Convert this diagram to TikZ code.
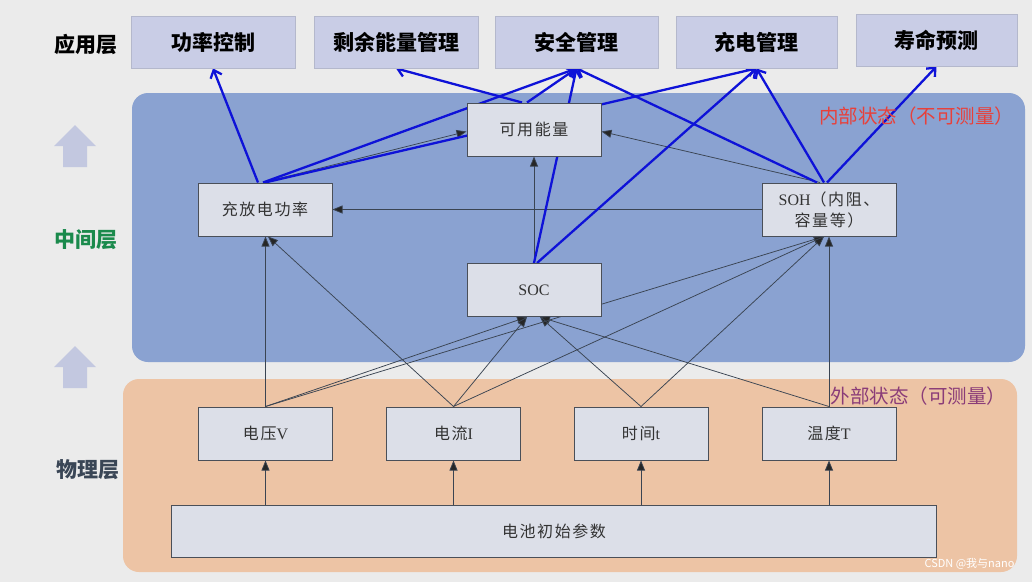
\documentclass[tikz,border=0pt]{standalone}
\usepackage{fontspec}
\setmainfont{Liberation Serif}
\newfontfamily\cjk{Noto Sans CJK SC}
\newfontfamily\cjkbox[LetterSpace=10]{Noto Sans CJK SC}
\usetikzlibrary{arrows.meta}

\definecolor{pagebg}{HTML}{EBEBEB}
\definecolor{innerbg}{HTML}{8AA2D1}
\definecolor{outerbg}{HTML}{EDC4A5}
\definecolor{appfill}{HTML}{C9CDE6}
\definecolor{appline}{HTML}{B4B8CC}
\definecolor{boxfill}{HTML}{DCDFE8}
\definecolor{boxline}{HTML}{4A4F58}
\definecolor{boxtext}{HTML}{333333}
\definecolor{feedline}{HTML}{3A4452}
\definecolor{useblue}{HTML}{0E12D8}
\definecolor{blockup}{HTML}{C3C8E0}
\definecolor{innertxt}{HTML}{E8403A}
\definecolor{outertxt}{HTML}{8A3C78}
\definecolor{midgreen}{HTML}{1A8A4C}
\definecolor{phystxt}{HTML}{3A4656}

\pgfdeclarelayer{back}
\pgfdeclarelayer{links}
\pgfsetlayers{back,links,main}

\begin{document}
\begin{tikzpicture}[x=1pt, y=-1pt,
  app/.style={rectangle, draw=appline, fill=appfill, line width=0.8pt,
              minimum width=164pt, minimum height=52pt, inner sep=0pt,
              font=\cjk\bfseries\fontsize{21}{24}\selectfont, text=black},
  state/.style={rectangle, draw=boxline, fill=boxfill, line width=1pt,
                minimum width=134pt, minimum height=53pt, inner sep=0pt,
                font=\fontsize{16}{21}\selectfont, text=boxtext, align=center},
  layername/.style={font=\cjk\bfseries\fontsize{21}{24}\selectfont},
  feedlink/.style={line width=0.75pt, draw=feedline,
                   -{Triangle[length=10pt, width=8pt, fill=black!85]}},
  uselink/.style={line width=2.3pt, draw=useblue,
                  -{Straight Barb[length=7pt, width=12pt]}}
]
  \useasboundingbox (0,0) rectangle (1032,582);

  % Page, layer bands and up arrows
  \begin{pgfonlayer}{back}
    \fill[pagebg] (0,0) rectangle (1032,582);
    \fill[innerbg, rounded corners=16pt] (132,93) rectangle (1025,362);
    \fill[outerbg, rounded corners=16pt] (123,379) rectangle (1017,572);
    \foreach \dy in {0,221} {
      \fill[blockup] (63,167+\dy) -- (63,146+\dy) -- (54,146+\dy) -- (75,125+\dy)
        -- (96,146+\dy) -- (87,146+\dy) -- (87,167+\dy) -- cycle;
    }
  \end{pgfonlayer}

  % Layer names
  \node[layername, text=black]    (lapp)  at (86,44)  {应用层};
  \node[layername, text=midgreen] (lmid)  at (86,240) {中间层};
  \node[layername, text=phystxt]  (lphys) at (88,470) {物理层};

  % Application layer
  \node[app] (a1) at (213,42)   {功率控制};
  \node[app] (a2) at (396,42)   {剩余能量管理};
  \node[app, minimum width=163pt] (a3) at (576.5,42) {安全管理};
  \node[app, minimum width=161pt] (a4) at (756.5,42) {充电管理};
  \node[app, minimum width=161pt] (a5) at (936.5,40) {寿命预测};

  % Internal states
  \node[state] (pw)  at (265,209.5) {{\cjkbox 充放电功率}};
  \node[state] (ky)  at (534,129.5) {{\cjkbox 可用能量}};
  \node[state] (soc) at (534,290)   {SOC};
  \node[state] (soh) at (829,209.5) {SOH{\cjkbox （内阻、}\\{\cjkbox 容量等）}};

  % Measured states
  \node[state] (v)  at (265.5,433.5) {{\cjkbox 电压}V};
  \node[state] (i)  at (453.5,433.5) {{\cjkbox 电流}I};
  \node[state] (t)  at (641,433.5)   {{\cjkbox 时间}t};
  \node[state] (tt) at (829,433.5)   {{\cjkbox 温度}T};
  \node[state, minimum width=765pt, minimum height=52pt] (bat) at (554,531)
    {{\cjkbox 电池初始参数}};

  % Band captions
  \node[anchor=east, text=innertxt, font=\cjk\fontsize{19.5}{23}\selectfont]
    (cin) at (1018,116) {内部状态（不可测量）};
  \node[anchor=east, text=outertxt, font=\cjk\fontsize{19.5}{23}\selectfont]
    (cout) at (1010,396) {外部状态（可测量）};
  \node[anchor=east, text=white, font=\cjk\fontsize{11}{13}\selectfont]
    (mark) at (1018,564) {CSDN @我与nano};

  \begin{pgfonlayer}{links}
    % Measured inputs
    \foreach \m in {v,i,t,tt}
      \draw[feedlink] (\m.south |- bat.north) -- (\m.south);
    \draw[feedlink] (v.north) -- (v.north |- pw.south);
    \draw[feedlink] (i.north) -- ([xshift=3pt]pw.south);
    \foreach \m in {v,i}
      \draw[feedlink] (\m.north) -- ([xshift=-7pt]soc.south);
    \foreach \m in {t,tt}
      \draw[feedlink] (\m.north) -- ([xshift=6pt]soc.south);
    \foreach \m in {v,i,t}
      \draw[feedlink] (\m.north) -- ([xshift=-5pt]soh.south);
    \draw[feedlink] (tt.north) -- (soh.south);

    % Links between internal states
    \draw[feedlink] (soc.north) -- (ky.south);
    \draw[feedlink] ([xshift=-9pt]soh.north) -- ([yshift=-2pt]ky.east);
    \draw[feedlink] (soh.west) -- (pw.east);
    \draw[feedlink] ([xshift=-2pt]pw.north) -- ([yshift=-2pt]ky.west);

    % Uses in the application layer
    \draw[uselink] ([xshift=-7pt]pw.north) -- (a1.south);
    \draw[uselink] ([xshift=-2pt]pw.north) -- (a3.south);
    \draw[uselink] (pw.north) -- (a4.south);
    \draw[uselink] ([xshift=-12pt]ky.north) -- (a2.south);
    \draw[uselink] ([xshift=-7pt]ky.north) -- (a3.south);
    \draw[uselink] (soc.north) -- (a3.south);
    \draw[uselink] ([xshift=3pt]soc.north) -- (a4.south);
    \draw[uselink] ([xshift=-12pt]soh.north) -- (a3.south);
    \draw[uselink] ([xshift=-5pt]soh.north) -- (a4.south);
    \draw[uselink] ([xshift=-2pt]soh.north) -- (a5.south);
  \end{pgfonlayer}
\end{tikzpicture}
\end{document}
